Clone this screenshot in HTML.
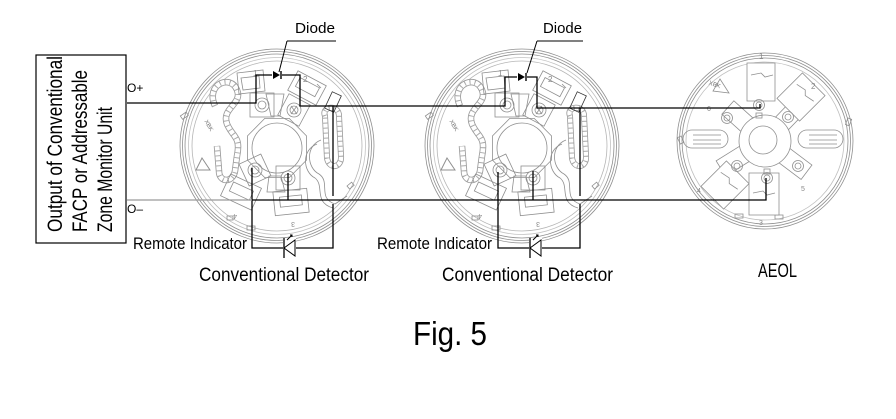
<!DOCTYPE html>
<html><head><meta charset="utf-8"><style>
html,body{margin:0;padding:0;background:#fff;}
svg{display:block;}
text{font-family:"Liberation Sans",Arial,sans-serif;}
</style></head><body>
<svg width="896" height="419" viewBox="0 0 896 419" xmlns="http://www.w3.org/2000/svg">
<defs>
<g id="det" fill="none" stroke="#8f8f8f" stroke-width="0.8">
  <circle r="97"/><circle r="94.5"/><circle r="92"/>
  <circle r="88.5" stroke="#c2c2c2"/>
  <circle r="85" stroke="#b5b5b5"/>
  <rect x="-62" y="-80" width="7" height="4" transform="rotate(-35)"/>
  <rect x="70" y="40" width="6" height="4" transform="rotate(-40 70 40)"/>
  <rect x="-50" y="70" width="6" height="4"/>
  <rect x="-30" y="80" width="8" height="4"/>
  <!-- serpentine channels -->
  <path d="M -62,-40 C -72,-62 -46,-72 -40,-56 C -34,-42 -56,-38 -50,-22 C -44,-8 -36,-10 -40,10 L -42,25 C -44,37 -58,37 -58,25 L -60,0" stroke="#999" stroke-width="6.5"/>
  <path d="M -62,-40 C -72,-62 -46,-72 -40,-56 C -34,-42 -56,-38 -50,-22 C -44,-8 -36,-10 -40,10 L -42,25 C -44,37 -58,37 -58,25 L -60,0" stroke="#fff" stroke-width="4.8"/>
  <path d="M -62,-40 C -72,-62 -46,-72 -40,-56 C -34,-42 -56,-38 -50,-22 C -44,-8 -36,-10 -40,10 L -42,25 C -44,37 -58,37 -58,25 L -60,0" stroke="#aaa" stroke-width="5" stroke-dasharray="1 4"/>
  <path d="M 48,-30 C 44,-40 62,-42 62,-30 L 64,10 C 65,22 52,24 50,12 Z" stroke="#999" stroke-width="6"/>
  <path d="M 48,-30 C 44,-40 62,-42 62,-30 L 64,10 C 65,22 52,24 50,12 Z" stroke="#fff" stroke-width="4.4"/>
  <path d="M 48,-30 C 44,-40 62,-42 62,-30 L 64,10 C 65,22 52,24 50,12 Z" stroke="#aaa" stroke-width="4.6" stroke-dasharray="1 4"/>
  <path d="M 44,-6 C 28,0 30,22 42,28 C 54,36 40,52 58,58 L 70,50"/>
  <path d="M 40,-2 C 24,4 26,26 38,32 C 48,40 36,56 56,62"/>
  <!-- hub -->
  <path d="M29.6,14 L12.2,31.6 L-12.2,31.6 L-29.6,14 L-29.6,-10 L-12.2,-27.6 L12.2,-27.6 L29.6,-10 Z"/>
  <circle cx="0" cy="2" r="25"/>
  <!-- funnels -->
  <path d="M-11,-52 L7,-52 L3,-30 L-6,-30 Z"/>
  <path d="M-8,30 L4,30 L8,46 L-10,46 Z"/>
  <!-- top-left terminal -->
  <path d="M-40,-73 L-14,-76 L-12,-55 L-38,-52 Z"/>
  <path d="M-36,-68 L-18,-70 L-17,-58 L-34,-56 Z"/>
  <rect x="-27" y="-53" width="24" height="24"/>
  <circle cx="-15" cy="-41" r="7"/><circle cx="-15" cy="-41" r="4"/>
  <!-- top-right terminal -->
  <g transform="rotate(28 17 -36)"><rect x="5" y="-48" width="24" height="24"/></g>
  <circle cx="17" cy="-36" r="7"/><circle cx="17" cy="-36" r="4"/>
  <path d="M14,-40 L20,-32 M20,-40 L14,-32"/>
  <g transform="rotate(28 30 -58)"><rect x="14" y="-69" width="32" height="22"/><rect x="19" y="-64" width="22" height="10"/></g>
  <!-- bottom-left terminal -->
  <g transform="rotate(-25 -22 24)"><rect x="-34" y="12" width="24" height="24"/></g>
  <circle cx="-22" cy="24" r="7"/><circle cx="-22" cy="24" r="4"/>
  <g transform="rotate(25 -36 46)"><rect x="-53" y="34" width="34" height="24"/><rect x="-47" y="40" width="22" height="10"/></g>
  <!-- bottom-right terminal -->
  <rect x="-1" y="20" width="24" height="24"/>
  <circle cx="11" cy="32" r="7"/><circle cx="11" cy="32" r="4"/>
  <g transform="rotate(-6 14 56)"><rect x="-3" y="44" width="34" height="24"/><rect x="3" y="50" width="22" height="10"/></g>
  <!-- misc -->
  <path d="M-75,12 L-67,24 L-81,24 Z" stroke-width="1"/>
  <path d="M40,-62 L44,-58" />
  <g transform="rotate(-65 56 -44)"><rect x="47" y="-49" width="18" height="10" stroke="#333"/></g>
  <text x="-24" y="-70" font-size="8" fill="#888" stroke="none">1</text>
  <text x="26" y="-64" font-size="8" fill="#888" stroke="none">2</text>
  <text x="-44" y="72" font-size="7" fill="#888" stroke="none" transform="rotate(180 -42 70)">4</text>
  <text x="14" y="80" font-size="7" fill="#888" stroke="none" transform="rotate(180 16 78)">3</text>
  <text x="-72" y="-22" font-size="6" fill="#777" stroke="none" transform="rotate(60 -70 -24)">XBK</text>
</g>
<g id="aeol" fill="none" stroke="#8f8f8f" stroke-width="0.8">
  <circle r="88"/><circle r="85.5"/><circle r="83"/>
  <circle r="79" stroke="#c0c0c0"/>
  <rect x="-78" y="-40" width="4" height="7" transform="rotate(-25)"/>
  <rect x="70" y="-50" width="4" height="7" transform="rotate(20)"/>
  <rect x="-30" y="73" width="8" height="4"/>
  <rect x="10" y="74" width="8" height="4"/>
  <!-- slots -->
  <rect x="-82" y="-11" width="45" height="18" rx="9"/>
  <path d="M-72,-6 L-44,-6 M-72,-1 L-44,-1 M-72,3 L-44,3"/>
  <rect x="33" y="-11" width="45" height="18" rx="9"/>
  <path d="M44,-6 L72,-6 M44,-1 L72,-1 M44,3 L72,3"/>
  <!-- arms -->
  <g transform="rotate(-32)"><rect x="-52" y="-9" width="52" height="18"/></g>
  <g transform="rotate(-46)"><rect x="0" y="-9" width="48" height="18"/></g>
  <g transform="rotate(42)"><rect x="-50" y="-9" width="50" height="18"/></g>
  <g transform="rotate(37)"><rect x="0" y="-9" width="52" height="18"/></g>
  <!-- terminal blocks -->
  <path d="M-18,-78 L10,-78 L10,-40 L-18,-40 Z" fill="#fff"/>
  <path d="M-14,-66 L-4,-68 L0,-64 L8,-66"/>
  <g transform="rotate(45 36 -44)"><rect x="20" y="-62" width="32" height="36" fill="#fff"/><path d="M24,-50 L34,-52 L38,-48 L48,-50"/></g>
  <g transform="rotate(45 -40 44)"><rect x="-56" y="26" width="32" height="36" fill="#fff"/><path d="M-52,38 L-42,36 L-38,40 L-28,38"/></g>
  <path d="M-16,32 L14,32 L14,74 L-16,74 Z" fill="#fff"/>
  <path d="M-12,52 L-2,50 L2,54 L10,52"/>
  <circle r="26" fill="#fff"/>
  <circle cx="-2" cy="-1" r="14"/>
  <!-- screws -->
  <circle cx="-38" cy="-23" r="5.5"/><circle cx="-38" cy="-23" r="3"/>
  <circle cx="23" cy="-24" r="5.5"/><circle cx="23" cy="-24" r="3"/>
  <circle cx="-28" cy="25" r="5.5"/><circle cx="-28" cy="25" r="3"/>
  <circle cx="33" cy="25" r="5.5"/><circle cx="33" cy="25" r="3"/>
  <circle cx="-6" cy="-36" r="5.5"/><circle cx="-6" cy="-36" r="3"/>
  <circle cx="2" cy="37" r="5.5"/><circle cx="2" cy="37" r="3"/>
  <rect x="-9" y="-28" width="6" height="5"/><rect x="-1" y="28" width="6" height="5"/>
  <path d="M-45,-62 L-36,-48 L-52,-50 Z"/>
  <text x="-6" y="-82" font-size="8" fill="#888" stroke="none">1</text>
  <text x="46" y="-52" font-size="8" fill="#888" stroke="none">2</text>
  <text x="36" y="50" font-size="7" fill="#888" stroke="none">5</text>
  <text x="-58" y="-30" font-size="7" fill="#888" stroke="none">6</text>
  <text x="-68" y="52" font-size="7" fill="#888" stroke="none">4</text>
  <text x="-6" y="84" font-size="7" fill="#888" stroke="none">3</text>
  <text x="-56" y="-56" font-size="6" fill="#777" stroke="none" transform="rotate(20 -54 -58)">XBK</text>
</g>
</defs>

<use href="#det" transform="translate(277,146)"/>
<use href="#det" transform="translate(522,146)"/>
<use href="#aeol" transform="translate(765,141)"/>

<!-- box -->
<rect x="36" y="55" width="90" height="188" fill="none" stroke="#000" stroke-width="1.2"/>
<text transform="translate(62,232) rotate(-90)" font-size="21" textLength="176" lengthAdjust="spacingAndGlyphs">Output of Conventional</text>
<text transform="translate(87,232) rotate(-90)" font-size="21" textLength="162" lengthAdjust="spacingAndGlyphs">FACP or Addressable</text>
<text transform="translate(112,232) rotate(-90)" font-size="21" textLength="125" lengthAdjust="spacingAndGlyphs">Zone Monitor Unit</text>

<text x="127" y="92" font-size="12">O+</text>
<text x="127" y="213" font-size="12">O–</text>

<!-- wires -->
<g fill="none" stroke="#000" stroke-width="1.3">
  <path d="M127,103 L256,103 L256,75 L300,75 L300,106 L505,106 L505,77 L537,77 L537,108 L760,108 L760,104"/>
  <path d="M252,200 L766,200 L766,178"/>
  <!-- det1 -->
  <path d="M288,173 L288,200"/>
  <path d="M252,168 L252,248 L333,248 L333,204"/>
  <path d="M333,196 L333,106"/>
  <!-- det2 -->
  <path d="M533,171 L533,200"/>
  <path d="M498,172 L498,248 L580,248 L580,204"/>
  <path d="M580,196 L580,108"/>
</g>
<path d="M127,200 L252,200" stroke="#9a9a9a" stroke-width="1.2"/>

<!-- top diodes -->
<rect x="272" y="70" width="10" height="10" fill="#fff"/>
<path d="M273,71 L273,79 L280,75 Z" fill="#000"/><path d="M281,71 L281,79" stroke="#000" stroke-width="1.4"/>
<rect x="517" y="72" width="10" height="10" fill="#fff"/>
<path d="M518,73 L518,81 L525,77 Z" fill="#000"/><path d="M526,73 L526,81" stroke="#000" stroke-width="1.4"/>

<!-- bottom LED diodes -->
<g fill="#fff" stroke="#000" stroke-width="1">
  <rect x="283" y="238" width="13" height="20" stroke="none"/>
  <path d="M284,248 L295,240 L295,256 Z"/>
  <path d="M284,238 L284,258" stroke-width="1.3"/>
  <path d="M287,240 L292,235 M290,235 L292,235 L292,237" fill="none"/>
  <rect x="529" y="238" width="13" height="20" stroke="none"/>
  <path d="M530,248 L541,240 L541,256 Z"/>
  <path d="M530,238 L530,258" stroke-width="1.3"/>
  <path d="M533,240 L538,235 M536,235 L538,235 L538,237" fill="none"/>
</g>

<!-- Diode labels -->
<text x="295" y="33" font-size="15" textLength="40" lengthAdjust="spacingAndGlyphs">Diode</text>
<path d="M287,41 L336,41 M287,41 L279,72" stroke="#000" stroke-width="1" fill="none"/>
<text x="543" y="33" font-size="15" textLength="39" lengthAdjust="spacingAndGlyphs">Diode</text>
<path d="M537,41 L583,41 M537,41 L527,73" stroke="#000" stroke-width="1" fill="none"/>

<text x="133" y="249" font-size="17" textLength="114" lengthAdjust="spacingAndGlyphs">Remote Indicator</text>
<text x="377" y="249" font-size="17" textLength="115" lengthAdjust="spacingAndGlyphs">Remote Indicator</text>
<text x="199" y="281" font-size="19" textLength="170" lengthAdjust="spacingAndGlyphs">Conventional Detector</text>
<text x="442" y="281" font-size="19" textLength="171" lengthAdjust="spacingAndGlyphs">Conventional Detector</text>
<text x="758" y="277" font-size="19" textLength="39" lengthAdjust="spacingAndGlyphs">AEOL</text>

<text x="413" y="345" font-size="33" textLength="74" lengthAdjust="spacingAndGlyphs">Fig. 5</text>
</svg>
</body></html>
